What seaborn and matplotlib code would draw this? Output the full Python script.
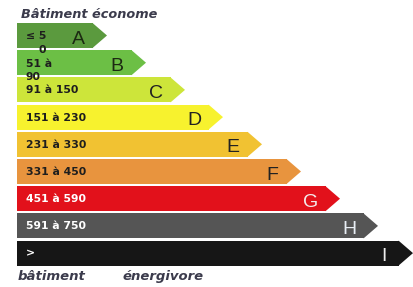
import matplotlib
matplotlib.use("Agg")
import matplotlib.pyplot as plt
from matplotlib.patches import Polygon
import pandas as pd
import seaborn as sns

# energy classes, top (économe) to bottom (énergivore)
classes = ["A", "B", "C", "D", "E", "F", "G", "H", "I"]
ranges = ["≤ 5\n0", "51 à\n90", "91 à 150", "151 à 230", "231 à 330",
          "331 à 450", "451 à 590", "591 à 750", ">"]
bar_length = [76, 115, 154, 192, 231, 270, 309, 347, 382]
colors = ["#5b9a3e", "#6cbf45", "#cde53a", "#f7f22e", "#f1c232",
          "#e8943e", "#e2111b", "#555555", "#161616"]
text_colors = ["#1c2a12", "#1c2a12", "#222222", "#222222", "#222222",
               "#222222", "#f4eaea", "#e8eef4", "#eeeeee"]
range_colors = ["#1e1e1e"] * 6 + ["#ffffff"] * 3

head = 14
bar_h = 0.92

df = pd.DataFrame({"classe": classes, "longueur": bar_length})

fig = plt.figure(figsize=(4.14, 2.87), dpi=100)
ax = fig.add_axes([0, 0, 1, 1])
sns.barplot(data=df, x="longueur", y="classe", hue="classe", palette=colors,
            orient="h", width=bar_h, saturation=1, linewidth=0,
            legend=False, ax=ax)

for i, (L, c) in enumerate(zip(bar_length, colors)):
    ax.add_patch(Polygon([(L - 0.5, i - bar_h / 2), (L + head, i),
                          (L - 0.5, i + bar_h / 2)],
                         closed=True, facecolor=c, edgecolor="none"))
    ax.text(L - 15, i + 0.13, classes[i], ha="center", va="center",
            fontsize=14, family="Liberation Sans", color=text_colors[i])
    lab = ranges[i]
    if "\n" in lab:
        ax.text(9, i - 0.15, lab, ha="left", va="top", fontsize=7.8,
                fontweight="bold", color=range_colors[i], linespacing=1.45,
                multialignment="right" if i == 0 else "left")
    else:
        ax.text(9, i + 0.02, lab, ha="left", va="center", fontsize=7.8,
                fontweight="bold", color=range_colors[i])

ax.text(4, -0.78, "Bâtiment économe", ha="left", va="center", fontsize=9.3,
        fontstyle="italic", fontweight="bold", color="#3b3b4c")
ax.text(1, 8.86, "bâtiment", ha="left", va="center", fontsize=9.5,
        fontstyle="italic", fontweight="bold", color="#3b3b4c")
ax.text(106, 8.86, "énergivore", ha="left", va="center", fontsize=9.5,
        fontstyle="italic", fontweight="bold", color="#3b3b4c")

ax.set_xlim(-17, 397)
ax.set_ylim(9.246, -1.305)
ax.set_axis_off()
fig.savefig("out.png", dpi=100, facecolor="white")
